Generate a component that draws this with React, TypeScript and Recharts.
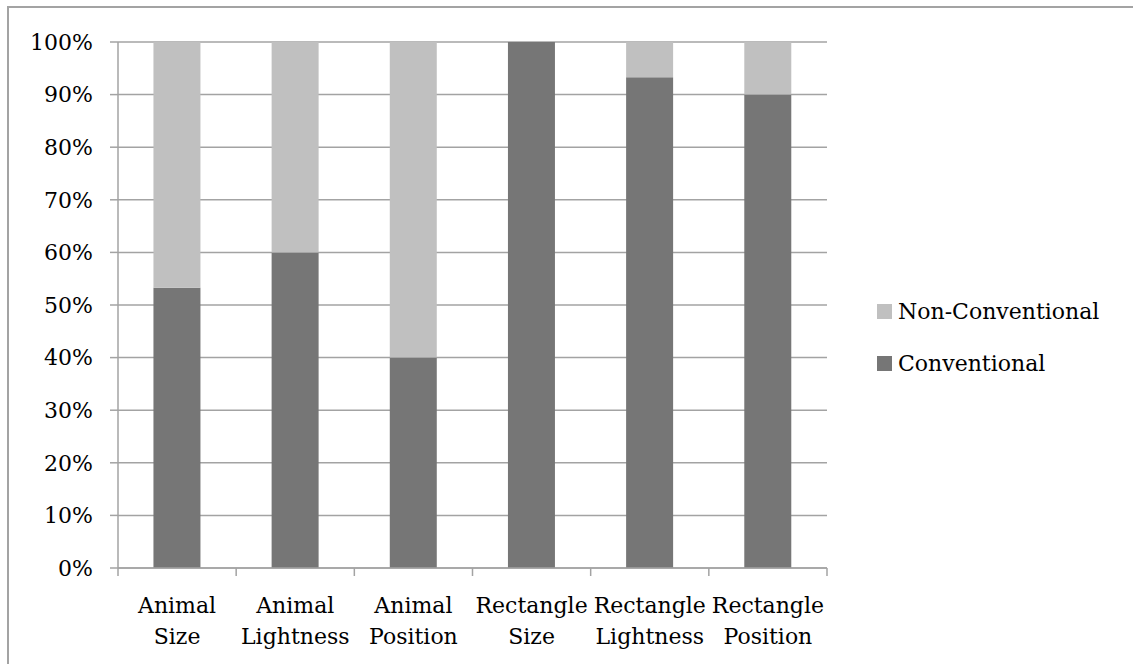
// Stacked 100% bar chart: conventional vs non-conventional answers per task.

import { BarChart, Bar, XAxis, YAxis, CartesianGrid } from "recharts";

const categories = [
    "Animal Size",
    "Animal Lightness",
    "Animal Position",
    "Rectangle Size",
    "Rectangle Lightness",
    "Rectangle Position",
];
const conventional = [53.3, 60, 40, 100, 93.3, 90];
const nonConventional = [46.7, 40, 60, 0, 6.7, 10];
const yTicks = [0, 10, 20, 30, 40, 50, 60, 70, 80, 90, 100];

const DARK = "#767676";
const LIGHT = "#C0C0C0";
const GRID = "#A3A3A3";
const FONT = "'DejaVu Serif', serif";

const W = 1124;
const H = 656;
const M = { top: 34, right: 306, left: 29, bottom: 16 };
const Y_W = 80;
const X_H = 80;
const PLOT_W = W - M.left - M.right - Y_W;
const PLOT_BOTTOM = H - M.bottom - X_H;
const BAND = PLOT_W / categories.length;

const data = categories.map((name, i) => ({
    name,
    conventional: conventional[i],
    nonConventional: nonConventional[i],
}));

const series = [
    { key: "conventional", label: "Conventional", color: DARK },
    { key: "nonConventional", label: "Non-Conventional", color: LIGHT },
];

function XTick(props: any) {
    const { x, payload, index } = props;
    const text: string = payload.value;
    const sp = text.indexOf(" ");
    const l1 = text.slice(0, sp);
    const l2 = text.slice(sp + 1);
    const y0 = PLOT_BOTTOM;
    return (
        <g>
            <line x1={x - BAND / 2} x2={x - BAND / 2} y1={y0} y2={y0 + 8} stroke={GRID} strokeWidth={1.5} />
            {index === categories.length - 1 && (
                <line x1={x + BAND / 2} x2={x + BAND / 2} y1={y0} y2={y0 + 8} stroke={GRID} strokeWidth={1.5} />
            )}
            <text x={x} y={y0 + 45} textAnchor="middle" fontFamily={FONT} fontSize={22} fill="#000">{l1}</text>
            <text x={x} y={y0 + 76} textAnchor="middle" fontFamily={FONT} fontSize={22} fill="#000">{l2}</text>
        </g>
    );
}

function LegendBox() {
    return (
        <div style={{ position: "absolute", left: 868, top: 277, fontFamily: FONT, fontSize: 22, color: "#000" }}>
            {[...series].reverse().map((s) => (
                <div key={s.key} style={{ display: "flex", alignItems: "center", height: 52 }}>
                    <span style={{ width: 15, height: 15, background: s.color, marginRight: 6, display: "inline-block" }} />
                    <span>{s.label}</span>
                </div>
            ))}
        </div>
    );
}

export default function App() {
    return (
        <div
            style={{
                position: "absolute",
                left: 7,
                top: 6,
                width: 1126,
                height: 658,
                borderLeft: `2px solid ${GRID}`,
                borderTop: `2px solid ${GRID}`,
                boxSizing: "border-box",
                background: "#fff",
            }}
        >
            <BarChart
                width={W}
                height={H}
                data={data}
                margin={M}
                barCategoryGap="30%"
            >
                <CartesianGrid vertical={false} stroke={GRID} strokeWidth={1.5} />
                <XAxis
                    dataKey="name"
                    height={X_H}
                    interval={0}
                    tickLine={false}
                    axisLine={{ stroke: GRID, strokeWidth: 1.5 }}
                    tick={<XTick />}
                />
                <YAxis
                    width={Y_W}
                    domain={[0, 100]}
                    ticks={yTicks}
                    interval={0}
                    tickFormatter={(v) => `${v}%`}
                    tickSize={8}
                    tickMargin={17}
                    tickLine={{ stroke: GRID, strokeWidth: 1.5 }}
                    axisLine={{ stroke: GRID, strokeWidth: 1.5 }}
                    tick={{ fontFamily: FONT, fontSize: 22, fill: "#000" }}
                />
                {series.map((s) => (
                    <Bar
                        key={s.key}
                        dataKey={s.key}
                        stackId="a"
                        fill={s.color}
                        isAnimationActive={false}
                    />
                ))}
            </BarChart>
            <LegendBox />
        </div>
    );
}
